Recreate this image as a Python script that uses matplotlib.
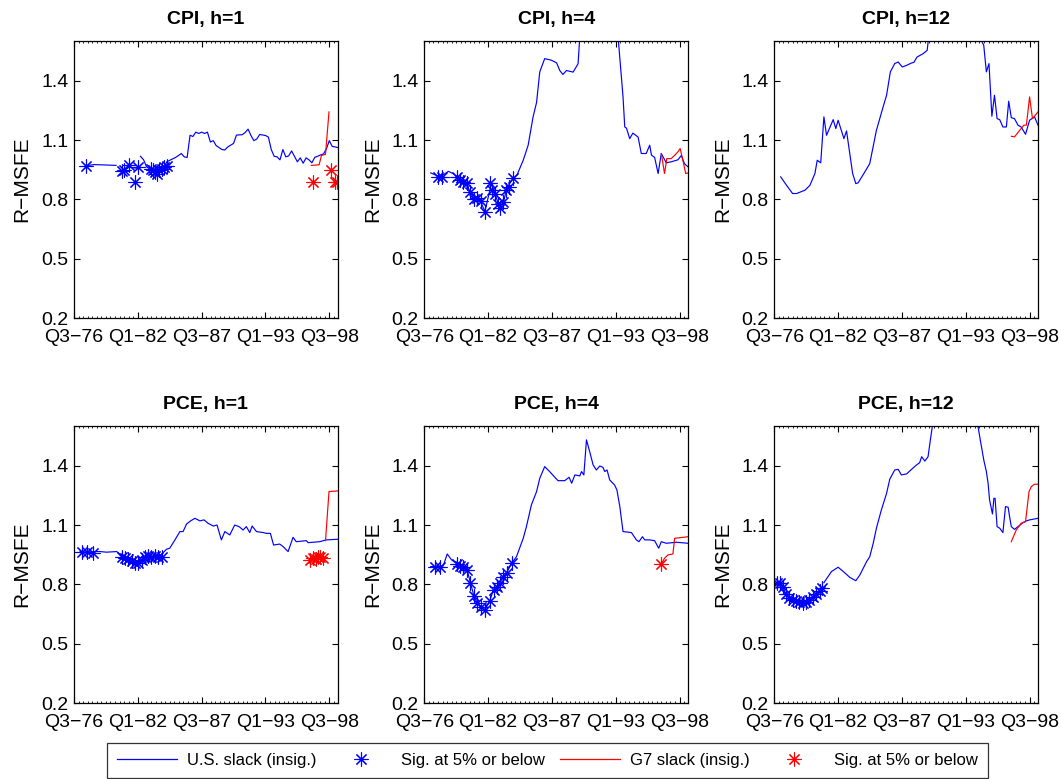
import numpy as np
import matplotlib
matplotlib.use("Agg")
import matplotlib.pyplot as plt
from matplotlib.ticker import FixedLocator, AutoMinorLocator
from matplotlib.lines import Line2D

plt.rcParams['font.family'] = ['Liberation Sans', 'DejaVu Sans']

nan = np.nan

# x positions are quarters since Q3-76
XTICK_POS = [0, 22, 44, 66, 88]
XTICK_LABELS = ["Q3\u221276", "Q1\u221282", "Q3\u221287", "Q1\u221293", "Q3\u221298"]
YTICKS = [0.2, 0.5, 0.8, 1.1, 1.4]
TITLES = ["CPI, h=1", "CPI, h=4", "CPI, h=12", "PCE, h=1", "PCE, h=4", "PCE, h=12"]
LEGEND_LABELS = ["U.S. slack (insig.)", "Sig. at 5% or below", "G7 slack (insig.)", "Sig. at 5% or below"]

# ---------------- CPI, h=1 ----------------
cpi1_us_q = [4, 7, 11, 14.5, nan, 16.4, 19, 21.9, nan, 22.9, 24, 25, 27, 29, 31, 32, 34, 35, 37, 38, 39, 40,
             41, 42, 43, 44, 45, 46, 47, 48, 49, 51, 52, 53, 55, 56, 58, 59, 60, 61, 62, 63, 64, 66, 67,
             68, 69, 70, 71, 72, 73, 74, 75, 76, 77, 78, 79, 80, 81, 82, 83, 84, 85, 86, 87, 88, 89, 91]
cpi1_us_v = [0.970, 0.976, 0.974, 0.972, nan, 0.945, 0.962, 0.958, nan, 1.018, 1.0, 0.965, 0.945, 0.95, 0.96,
             0.99, 1.005, 1.012, 1.032, 1.015, 1.012, 1.124, 1.118, 1.14, 1.133, 1.14, 1.133, 1.14, 1.09,
             1.097, 1.072, 1.052, 1.05, 1.065, 1.083, 1.125, 1.127, 1.138, 1.155, 1.123, 1.097, 1.105, 1.128,
             1.123, 1.115, 1.052, 1.018, 1.015, 1.0, 1.052, 1.015, 1.02, 1.045, 1.018, 0.99, 1.01, 0.983,
             1.01, 1.0, 0.985, 1.013, 1.018, 1.025, 1.03, 1.055, 1.097, 1.068, 1.062]
cpi1_us_sig_q = [4.1, 16.4, 17.2, 19.0, 21.0, 21.9, 26.4, 27.3, 27.9, 28.5, 29.4, 30.2, 31.0, 31.9]
cpi1_us_sig_v = [0.970, 0.945, 0.951, 0.973, 0.889, 0.965, 0.956, 0.948, 0.940, 0.931, 0.948, 0.956, 0.965, 0.968]
cpi1_g7_q = [81.8, 84.5, 85.3, 86.7, 87.9]
cpi1_g7_v = [0.972, 0.975, 1.022, 1.028, 1.242]
cpi1_g7_sig_q = [82.4, 88.5, 89.8, 90.6]
cpi1_g7_sig_v = [0.889, 0.948, 0.889, 0.889]

# ---------------- CPI, h=4 ----------------
cpi4_us_q = [2.2, 5.4, 7.1, 8.3, 10.0, 11.7, 13.4, 14.6, 15.7, 17.4, 19.2, 20.9, 22.6, 23.2, 24.3, 25.5,
             26.3, 27.4, 28.3, 30.6, 32.0, 34.1, 35.8, 37.5, 38.7, 39.8, 41.5, 43.8, 45.6, 46.7, 47.8, 49.0,
             51.3, 53.0, 53.6, 55.9, 65.1, 66.8, 68.5, 69.1, 69.7, 70.8, 71.9, 73.7, 74.8, 76.5, 77.7, 78.3,
             79.4, 80.6, 81.7, 83.4, 85.1, 87.4, 88.6, 89.7, 90.9]
cpi4_us_v = [0.934, 0.914, 0.93, 0.942, 0.93, 0.91, 0.89, 0.88, 0.84, 0.80, 0.795, 0.74, 0.847, 0.88, 0.83,
             0.78, 0.755, 0.79, 0.855, 0.906, 0.925, 0.998, 1.074, 1.217, 1.29, 1.444, 1.511, 1.503, 1.49,
             1.451, 1.431, 1.451, 1.443, 1.485, 1.62, 1.9, 1.9, 1.62, 1.318, 1.166, 1.16, 1.107, 1.135,
             1.115, 1.032, 1.032, 1.074, 1.024, 1.012, 0.931, 1.032, 0.985, 0.99, 1.0, 1.022, 0.98, 0.965]
cpi4_us_sig_q = [4.8, 6.0, 11.1, 12.3, 13.4, 14.6, 15.7, 17.1, 18.2, 19.4, 20.9, 22.6, 23.2, 24.3, 25.5,
                 26.0, 27.2, 28.3, 29.3, 30.6]
cpi4_us_sig_v = [0.914, 0.911, 0.914, 0.897, 0.889, 0.881, 0.839, 0.800, 0.805, 0.793, 0.738, 0.881, 0.847,
                 0.830, 0.776, 0.755, 0.788, 0.847, 0.864, 0.906]
cpi4_g7_q = [81.7, 82.8, 83.6, 85.1, 86.3, 87.4, 88.2, 89.4, 90.1, 90.9]
cpi4_g7_v = [1.032, 0.931, 1.006, 1.006, 1.023, 1.04, 1.057, 0.98, 0.931, 0.934]
cpi4_g7_sig_q = []
cpi4_g7_sig_v = []

# ---------------- CPI, h=12 ----------------
cpi12_us_q = [2.2, 4.2, 6.3, 7.7, 10.6, 12.3, 14.0, 14.8, 16.0, 17.1, 18.0, 20.3, 21.2, 22.0, 24.0, 24.9,
              27.0, 28.1, 28.9, 31.2, 32.9, 35.2, 37.5, 38.7, 40.0, 41.5, 42.7, 44.1, 45.6, 47.3, 48.1, 49.2,
              51.3, 52.7, 53.2, 56.0, 68.0, 70.8, 72.2, 73.1, 74.0, 75.0, 75.9, 76.8, 77.7, 78.8, 80.0, 80.8,
              81.7, 82.8, 84.0, 85.1, 86.6, 88.0, 89.7, 90.9]
cpi12_us_v = [0.914, 0.872, 0.83, 0.83, 0.847, 0.872, 0.931, 0.998, 0.985, 1.217, 1.124, 1.203, 1.158, 1.2,
              1.107, 1.146, 0.931, 0.88, 0.884, 0.939, 0.981, 1.149, 1.267, 1.326, 1.444, 1.486, 1.494,
              1.469, 1.477, 1.489, 1.492, 1.519, 1.536, 1.553, 1.62, 1.9, 1.9, 1.62, 1.578, 1.444, 1.486,
              1.22, 1.326, 1.208, 1.203, 1.166, 1.166, 1.296, 1.213, 1.208, 1.175, 1.166, 1.129, 1.2, 1.217,
              1.175]
cpi12_us_sig_q = []
cpi12_us_sig_v = []
cpi12_g7_q = [81.7, 82.8, 85.1, 86.0, 86.9, 88.0, 89.0, 90.9]
cpi12_g7_v = [1.119, 1.116, 1.158, 1.175, 1.175, 1.318, 1.208, 1.242]
cpi12_g7_sig_q = []
cpi12_g7_sig_v = []

# ---------------- PCE, h=1 ----------------
pce1_us_q = [2.1, 4.4, 7.2, 9.0, 11.2, 14.7, 17.0, 19.9, 21.6, 23.3, 25.0, 27.9, 29.6, 31.9, 33.0, 34.8,
             36.5, 37.6, 38.8, 40.2, 41.7, 43.4, 44.8, 46.2, 48.0, 49.3, 50.8, 52.0, 53.7, 55.4, 56.9, 58.3,
             59.4, 60.6, 61.4, 62.9, 65.2, 66.3, 67.7, 68.8, 70.9, 72.1, 73.8, 75.5, 76.6, 80.1, 80.7, 84.7,
             87.0, 90.8]
pce1_us_v = [0.966, 0.963, 0.966, 0.966, 0.963, 0.966, 0.94, 0.92, 0.907, 0.924, 0.937, 0.94, 0.944, 0.978,
             0.983, 1.025, 1.067, 1.067, 1.105, 1.121, 1.134, 1.121, 1.126, 1.109, 1.095, 1.1, 1.025, 1.067,
             1.05, 1.1, 1.092, 1.075, 1.092, 1.062, 1.095, 1.067, 1.062, 1.058, 1.058, 0.999, 1.004, 0.991,
             0.966, 1.038, 1.016, 1.021, 1.011, 1.016, 1.025, 1.028]
pce1_us_sig_q = [2.6, 4.4, 6.7, 16.4, 17.6, 18.7, 19.9, 21.0, 22.1, 23.3, 24.4, 25.6, 26.7, 27.9, 29.0, 30.2]
pce1_us_sig_v = [0.962, 0.966, 0.961, 0.94, 0.932, 0.927, 0.92, 0.91, 0.907, 0.924, 0.94, 0.944, 0.94, 0.945,
                 0.94, 0.94]
pce1_g7_q = [86.7, 87.9, 90.8]
pce1_g7_v = [1.021, 1.269, 1.272]
pce1_g7_sig_q = [81.2, 82.4, 83.3, 84.1, 84.9, 85.8]
pce1_g7_sig_v = [0.924, 0.932, 0.927, 0.94, 0.937, 0.935]

# ---------------- PCE, h=4 ----------------
pce4_us_q = [2.2, 5.4, 6.5, 7.9, 9.4, 11.1, 12.9, 14.6, 15.9, 17.1, 18.2, 19.4, 20.9, 22.6, 23.8, 24.9,
             26.0, 27.2, 28.6, 30.1, 31.8, 34.1, 35.2, 36.9, 38.7, 39.8, 41.5, 43.2, 45.0, 46.1, 48.4, 49.9,
             50.8, 51.9, 53.6, 54.2, 55.0, 55.9, 57.0, 58.2, 59.3, 60.5, 61.6, 62.2, 63.0, 63.9, 65.6, 66.4,
             67.4, 68.5, 71.4, 73.1, 74.0, 75.2, 76.0, 77.7, 79.4, 80.8, 81.7, 83.4, 86.9, 90.9]
pce4_us_v = [0.89, 0.89, 0.893, 0.954, 0.924, 0.907, 0.899, 0.882, 0.809, 0.742, 0.708, 0.685, 0.671, 0.718,
             0.772, 0.789, 0.809, 0.84, 0.865, 0.907, 0.941, 1.033, 1.092, 1.201, 1.269, 1.336, 1.395, 1.37,
             1.341, 1.324, 1.324, 1.341, 1.311, 1.353, 1.348, 1.37, 1.353, 1.53, 1.471, 1.403, 1.378, 1.398,
             1.391, 1.37, 1.378, 1.328, 1.302, 1.277, 1.193, 1.067, 1.062, 1.025, 1.016, 1.041, 1.025, 1.025,
             1.021, 0.983, 1.016, 1.008, 1.013, 1.008]
pce4_us_sig_q = [3.7, 5.4, 11.1, 12.3, 13.4, 14.6, 15.9, 17.1, 18.2, 19.4, 20.9, 22.6, 24.0, 24.9, 26.0, 27.2,
                 28.6, 30.4]
pce4_us_sig_v = [0.89, 0.887, 0.903, 0.893, 0.887, 0.873, 0.809, 0.742, 0.708, 0.688, 0.671, 0.718, 0.772,
                 0.786, 0.809, 0.836, 0.86, 0.91]
pce4_g7_q = [81.7, 82.8, 84.0, 85.7, 86.3, 90.9]
pce4_g7_v = [0.903, 0.932, 0.949, 0.954, 1.033, 1.041]
pce4_g7_sig_q = [81.7]
pce4_g7_sig_v = [0.903]

# ---------------- PCE, h=12 ----------------
pce12_us_q = [0.8, 2.0, 2.9, 4.0, 5.2, 6.3, 7.5, 8.6, 9.8, 10.9, 12.0, 13.2, 14.3, 15.7, nan, 17.1, 19.7,
              22.0, 23.8, 26.0, 28.1, 29.5, 31.8, 32.9, 34.1, 35.2, 36.9, 38.7, 39.8, 41.5, 42.7, 43.8, 45.6,
              47.3, 49.0, 50.1, 50.8, 51.9, 53.0, 53.8, 54.5, 56.0, 68.0, 70.2, 71.0, 72.2, 73.1, 73.7, 74.2,
              75.2, 75.7, 76.1, 76.8, 77.7, 78.8, 79.7, 80.6, 81.1, 81.7, 82.8, 84.0, 85.7, 86.9, 88.0, 90.9]
pce12_us_v = [0.809, 0.809, 0.789, 0.752, 0.73, 0.722, 0.718, 0.713, 0.708, 0.713, 0.722, 0.735, 0.752,
              0.772, nan, 0.809, 0.865, 0.887, 0.865, 0.836, 0.819, 0.848, 0.915, 0.94, 1.008, 1.084, 1.176,
              1.26, 1.331, 1.378, 1.381, 1.353, 1.358, 1.381, 1.403, 1.415, 1.445, 1.423, 1.445, 1.53, 1.6,
              1.9, 1.9, 1.6, 1.53, 1.429, 1.37, 1.311, 1.227, 1.156, 1.235, 1.235, 1.092, 1.084, 1.062,
              1.193, 1.19, 1.143, 1.092, 1.078, 1.092, 1.112, 1.121, 1.126, 1.134]
pce12_us_sig_q = [0.8, 2.0, 2.9, 4.0, 5.2, 6.3, 7.5, 8.6, 9.8, 10.9, 12.0, 13.2, 14.3, 15.7, 16.5]
pce12_us_sig_v = [0.809, 0.809, 0.789, 0.752, 0.73, 0.722, 0.718, 0.713, 0.708, 0.713, 0.722, 0.735, 0.752,
                  0.765, 0.78]
pce12_g7_q = [81.7, 83.4, 85.1, 86.6, 87.8, 88.6, 89.7, 90.9]
pce12_g7_v = [1.016, 1.075, 1.109, 1.117, 1.269, 1.294, 1.306, 1.306]
pce12_g7_sig_q = []
pce12_g7_sig_v = []

panels = [
    (cpi1_us_q, cpi1_us_v, cpi1_us_sig_q, cpi1_us_sig_v, cpi1_g7_q, cpi1_g7_v, cpi1_g7_sig_q, cpi1_g7_sig_v),
    (cpi4_us_q, cpi4_us_v, cpi4_us_sig_q, cpi4_us_sig_v, cpi4_g7_q, cpi4_g7_v, cpi4_g7_sig_q, cpi4_g7_sig_v),
    (cpi12_us_q, cpi12_us_v, cpi12_us_sig_q, cpi12_us_sig_v, cpi12_g7_q, cpi12_g7_v, cpi12_g7_sig_q, cpi12_g7_sig_v),
    (pce1_us_q, pce1_us_v, pce1_us_sig_q, pce1_us_sig_v, pce1_g7_q, pce1_g7_v, pce1_g7_sig_q, pce1_g7_sig_v),
    (pce4_us_q, pce4_us_v, pce4_us_sig_q, pce4_us_sig_v, pce4_g7_q, pce4_g7_v, pce4_g7_sig_q, pce4_g7_sig_v),
    (pce12_us_q, pce12_us_v, pce12_us_sig_q, pce12_us_sig_v, pce12_g7_q, pce12_g7_v, pce12_g7_sig_q, pce12_g7_sig_v),
]

W, H = 1061, 779
fig = plt.figure(figsize=(W / 100, H / 100), dpi=100)

lefts = [74, 424.3, 774.3]
tops = [41, 426]
aw, ah = 263.7, 277.3

STAR = (8, 2, 0)
BLUE = (0, 0, 1)
RED = (1, 0, 0)

for i, data in enumerate(panels):
    r, c = divmod(i, 3)
    ax = fig.add_axes([lefts[c] / W, 1 - (tops[r] + ah) / H, aw / W, ah / H])
    usq, usv, ussq, ussv, g7q, g7v, g7sq, g7sv = data
    ax.plot(usq, usv, color=BLUE, lw=0.85)
    ax.plot(g7q, g7v, color=RED, lw=0.85)
    if ussq:
        ax.plot(ussq, ussv, ls='none', marker=STAR, ms=10, mew=0.8, color=BLUE)
    if g7sq:
        ax.plot(g7sq, g7sv, ls='none', marker=STAR, ms=10, mew=0.8, color=RED)
    ax.set_xlim(0, 90.9)
    ax.set_ylim(0.2, 1.6)
    ax.xaxis.set_major_locator(FixedLocator(XTICK_POS))
    ax.set_xticklabels(XTICK_LABELS)
    ax.xaxis.set_minor_locator(AutoMinorLocator(14))
    ax.set_yticks(YTICKS)
    ax.set_yticklabels([f"{v:.1f}" for v in YTICKS])
    ax.tick_params(axis='both', which='major', direction='in', top=True, right=True,
                   length=4, width=0.8, labelsize=14)
    ax.tick_params(axis='y', which='major', pad=4)
    ax.tick_params(axis='x', which='major', pad=8)
    ax.tick_params(axis='x', which='minor', direction='in', top=True, bottom=True,
                   length=1.5, width=0.6)
    for s in ax.spines.values():
        s.set_linewidth(0.9)
    ax.set_ylabel("R\u2212MSFE", fontsize=15, labelpad=7)
    ax.set_title(TITLES[i], fontsize=14, fontweight='bold', pad=12)

handles = [
    Line2D([], [], color=BLUE, lw=0.9),
    Line2D([], [], ls='none', marker=STAR, ms=10, mew=0.8, color=BLUE),
    Line2D([], [], color=RED, lw=0.9),
    Line2D([], [], ls='none', marker=STAR, ms=10, mew=0.8, color=RED),
]
x0, x1 = 107 / W, 988 / W
y0, y1 = 1 - 778 / H, 1 - 742 / H
leg = fig.legend(handles, LEGEND_LABELS, ncol=4, loc='lower left',
                 bbox_to_anchor=(x0, y0, x1 - x0, y1 - y0), mode='expand',
                 fontsize=12, frameon=True, fancybox=False, handlelength=3.6,
                 borderaxespad=0, borderpad=0.6, handletextpad=0.6)
leg.get_frame().set_edgecolor('black')
leg.get_frame().set_linewidth(0.9)

fig.savefig("out.png", dpi=100)
